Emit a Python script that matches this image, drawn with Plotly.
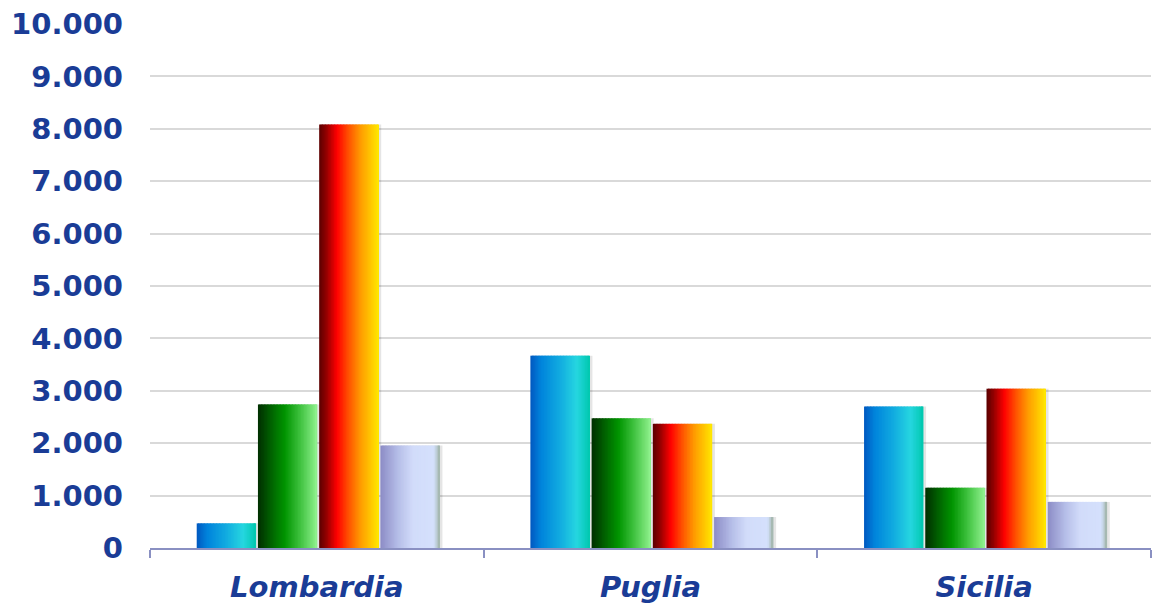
import plotly.graph_objects as go

# Regions on the category axis and the four series plotted for each
regioni = ["Lombardia", "Puglia", "Sicilia"]
serie_1 = [470, 3670, 2700]
serie_2 = [2740, 2475, 1150]
serie_3 = [8080, 2370, 3040]
serie_4 = [1955, 590, 880]

y_ticks = list(range(0, 10001, 1000))

# Horizontal colour ramps used to fill each series' bars (position, hex colour)
ramp_blu = [(0.0, "#0058C0"), (0.18, "#0084DC"), (0.5, "#12ACE0"), (0.78, "#26D6E0"), (1.0, "#00C8AE")]
ramp_verde = [(0.0, "#002E00"), (0.3, "#007400"), (0.45, "#009400"), (0.7, "#3CC03C"), (1.0, "#92F290")]
ramp_rosso = [(0.0, "#5A0000"), (0.12, "#920000"), (0.3, "#FF0000"), (0.5, "#FF5400"), (0.7, "#FF9C00"), (1.0, "#FFE800")]
ramp_lilla = [(0.0, "#8C8CC6"), (0.3, "#B6BEE8"), (0.55, "#D2DCFA"), (0.9, "#D4E0FC"), (1.0, "#A0B4A8")]

TEXT = "#1A3C96"
FONT = "DejaVu Sans"


def hex_rgb(h):
    h = h.lstrip("#")
    return tuple(int(h[i:i + 2], 16) for i in (0, 2, 4))


def ramp_color(stops, t):
    for (p0, c0), (p1, c1) in zip(stops[:-1], stops[1:]):
        if p0 <= t <= p1:
            f = (t - p0) / (p1 - p0) if p1 > p0 else 0
            a, b = hex_rgb(c0), hex_rgb(c1)
            r, g, bl = (round(a[j] + (b[j] - a[j]) * f) for j in range(3))
            return f"rgb({r},{g},{bl})"
    r, g, bl = hex_rgb(stops[-1][1])
    return f"rgb({r},{g},{bl})"


series = [(serie_1, ramp_blu), (serie_2, ramp_verde), (serie_3, ramp_rosso), (serie_4, ramp_lilla)]

BAR_W = 0.178
PITCH = 0.1835
FIRST = -0.360
SLICES = 40

fig = go.Figure()

# soft drop shadows behind the bars
for i, (vals, _) in enumerate(series):
    start = FIRST + i * PITCH
    fig.add_bar(x=regioni, y=vals, width=BAR_W, offset=start + 0.008,
                marker=dict(color="rgba(0,0,0,0.10)", line=dict(width=0)),
                hoverinfo="skip", showlegend=False)

# bars built from thin vertical strips to render the horizontal gradient
for i, (vals, stops) in enumerate(series):
    start = FIRST + i * PITCH
    step = BAR_W / SLICES
    for k in range(SLICES):
        t = (k + 0.5) / SLICES
        w = step * 1.6 if k < SLICES - 1 else step
        fig.add_bar(x=regioni, y=vals, width=w, offset=start + k * step,
                    marker=dict(color=ramp_color(stops, t), line=dict(width=0)),
                    hoverinfo="skip", showlegend=False)

fig.update_layout(
    width=1153, height=603,
    barmode="overlay",
    plot_bgcolor="white", paper_bgcolor="white",
    margin=dict(l=150, r=2, t=24, b=55),
    separators=",.",
    showlegend=False,
    font=dict(family=FONT, color=TEXT),
)

fig.update_yaxes(
    range=[0, 10000], tickvals=y_ticks, tickformat=",d",
    showgrid=True, gridcolor="#D9D9D9", gridwidth=2,
    showline=False, zeroline=False, ticks="",
    ticklabelstandoff=26, automargin=False,
    tickfont=dict(family=FONT, size=29, color=TEXT, weight="bold"),
)

fig.update_xaxes(
    type="category", categoryorder="array", categoryarray=regioni,
    showline=True, linecolor="#8A90C2", linewidth=2,
    ticks="outside", tickson="boundaries", ticklen=8, tickwidth=2, tickcolor="#8A90C2",
    showgrid=False,
    ticklabelstandoff=12, automargin=False,
    tickfont=dict(family=FONT, size=29, color=TEXT, weight="bold", style="italic"),
)

fig.write_html("out.html")
